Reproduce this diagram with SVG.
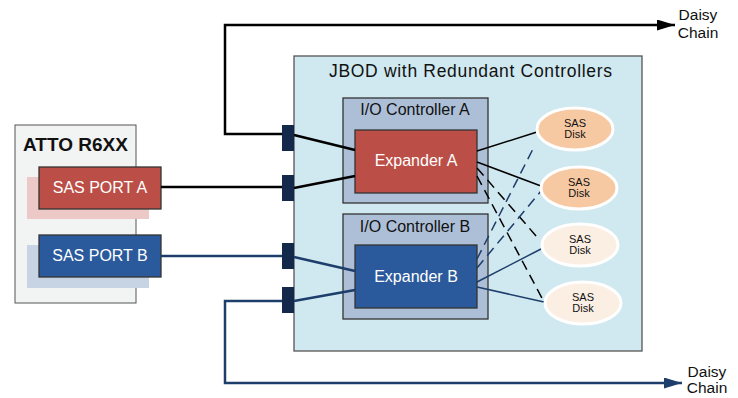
<svg xmlns="http://www.w3.org/2000/svg" width="738" height="398" viewBox="0 0 738 398">
<defs>
<style>
text{font-family:"Liberation Sans",Arial,sans-serif}
.box{stroke:#333;stroke-width:1.3}
.red{fill:#bb4f47}
.blue{fill:#2a5a9b}
.ctl{fill:#adbfd7}
.wt{fill:#fff;text-anchor:middle}
.dk{fill:#111;text-anchor:middle}
.conn{fill:#13284a}
.lk{stroke:#000;fill:none}
.lb{stroke:#1d3d6b;fill:none}
.disk{stroke:#fff;stroke-width:3}
</style>
<marker id="ak" markerWidth="18" markerHeight="11" refX="18" refY="5.5" orient="auto" markerUnits="userSpaceOnUse"><path d="M0,0 L18,5.5 L0,11 Z" fill="#000"/></marker>
<marker id="ab" markerWidth="18" markerHeight="11" refX="18" refY="5.5" orient="auto" markerUnits="userSpaceOnUse"><path d="M0,0 L18,5.5 L0,11 Z" fill="#1d3d6b"/></marker>
</defs>
<rect width="738" height="398" fill="#fff"/>

<g id="atto">
<rect x="15" y="125" width="121" height="178" fill="#f2f3f3" stroke="#555" stroke-width="1"/>
<text x="23" y="151" font-size="19" font-weight="bold" fill="#111">ATTO R6XX</text>
</g>
<g id="portA">
<rect x="27" y="177" width="122" height="42" fill="#ecc9c6"/>
<rect x="39" y="167" width="122" height="42" class="box red"/>
<text x="100" y="193" font-size="16" class="wt">SAS PORT A</text>
</g>
<g id="portB">
<rect x="27" y="245" width="122" height="43" fill="#c6d4e4"/>
<rect x="39" y="235" width="122" height="42" class="box blue"/>
<text x="100" y="261" font-size="16" class="wt">SAS PORT B</text>
</g>

<g id="jbod">
<rect x="294" y="56" width="348" height="295" fill="#d0e8ef" stroke="#555" stroke-width="1.3"/>
<text x="329" y="77" font-size="17.5" fill="#111" textLength="283" lengthAdjust="spacing">JBOD with Redundant Controllers</text>
</g>

<g id="ctlA">
<rect x="343" y="98" width="145" height="105" class="box ctl"/>
<text x="415" y="115" font-size="16" class="dk">I/O Controller A</text>
</g>
<g id="expA">
<rect x="355" y="130" width="122" height="63" class="box red"/>
<text x="416" y="166" font-size="16" class="wt">Expander A</text>
</g>
<g id="ctlB">
<rect x="343" y="214" width="145" height="105" class="box ctl"/>
<text x="415" y="232" font-size="16" class="dk">I/O Controller B</text>
</g>
<g id="expB">
<rect x="355" y="245" width="122" height="63" class="box blue"/>
<text x="416" y="282" font-size="16" class="wt">Expander B</text>
</g>

<g id="connectors">
<path class="lk" stroke-width="2.5" d="M161,187 H288"/>
<path class="lb" stroke-width="2.5" d="M161,256 H288"/>
<path class="lk" stroke-width="2.5" d="M288,134 H225 V25 H675" marker-end="url(#ak)"/>
<path class="lb" stroke-width="2.5" d="M288,301 H225 V383 H682" marker-end="url(#ab)"/>
<path class="lk" stroke-width="2.5" d="M294,135 L355,150"/>
<path class="lk" stroke-width="2.5" d="M294,188 L355,176"/>
<path class="lb" stroke-width="2.5" d="M294,257 L355,271"/>
<path class="lb" stroke-width="2.5" d="M294,301 L355,290"/>
<path class="lk" stroke-width="1.5" d="M477,151 L537,132"/>
<path class="lk" stroke-width="1.5" d="M477,162 L541,186"/>
<path class="lk" stroke-width="1.5" stroke-dasharray="10,6" d="M477,168 L537,237"/>
<path class="lk" stroke-width="1.5" stroke-dasharray="10,6" d="M477,176 L543,300"/>
<path class="lb" stroke-width="1.5" stroke-dasharray="10,6" d="M477,259 L535,145"/>
<path class="lb" stroke-width="1.5" stroke-dasharray="10,6" d="M477,268 L541,191"/>
<path class="lb" stroke-width="1.5" d="M477,282 L541,249"/>
<path class="lb" stroke-width="1.5" d="M477,287 L544,302"/>
</g>

<g id="ports">
<rect x="282" y="125" width="12" height="26" class="conn"/>
<rect x="282" y="175" width="12" height="26" class="conn"/>
<rect x="282" y="243" width="12" height="26" class="conn"/>
<rect x="282" y="287" width="12" height="26" class="conn"/>
</g>

<g id="disk1">
<ellipse cx="575" cy="129" rx="38" ry="21" class="disk" fill="#f7c9a3"/>
<text x="575" y="127" font-size="11" class="dk">SAS</text>
<text x="575" y="138" font-size="11" class="dk">Disk</text>
</g>
<g id="disk2">
<ellipse cx="579" cy="188" rx="38" ry="21" class="disk" fill="#f7c9a3"/>
<text x="579" y="186" font-size="11" class="dk">SAS</text>
<text x="579" y="197" font-size="11" class="dk">Disk</text>
</g>
<g id="disk3">
<ellipse cx="580" cy="245" rx="38" ry="21" class="disk" fill="#fbeee3"/>
<text x="580" y="243" font-size="11" class="dk">SAS</text>
<text x="580" y="254" font-size="11" class="dk">Disk</text>
</g>
<g id="disk4">
<ellipse cx="583" cy="303" rx="38" ry="21" class="disk" fill="#fbeee3"/>
<text x="583" y="301" font-size="11" class="dk">SAS</text>
<text x="583" y="312" font-size="11" class="dk">Disk</text>
</g>

<g id="daisyTop">
<text x="698" y="20" font-size="15.5" class="dk">Daisy</text>
<text x="698" y="38" font-size="15.5" class="dk">Chain</text>
</g>
<g id="daisyBottom">
<text x="707" y="377" font-size="15.5" class="dk">Daisy</text>
<text x="707" y="393" font-size="15.5" class="dk">Chain</text>
</g>
</svg>
